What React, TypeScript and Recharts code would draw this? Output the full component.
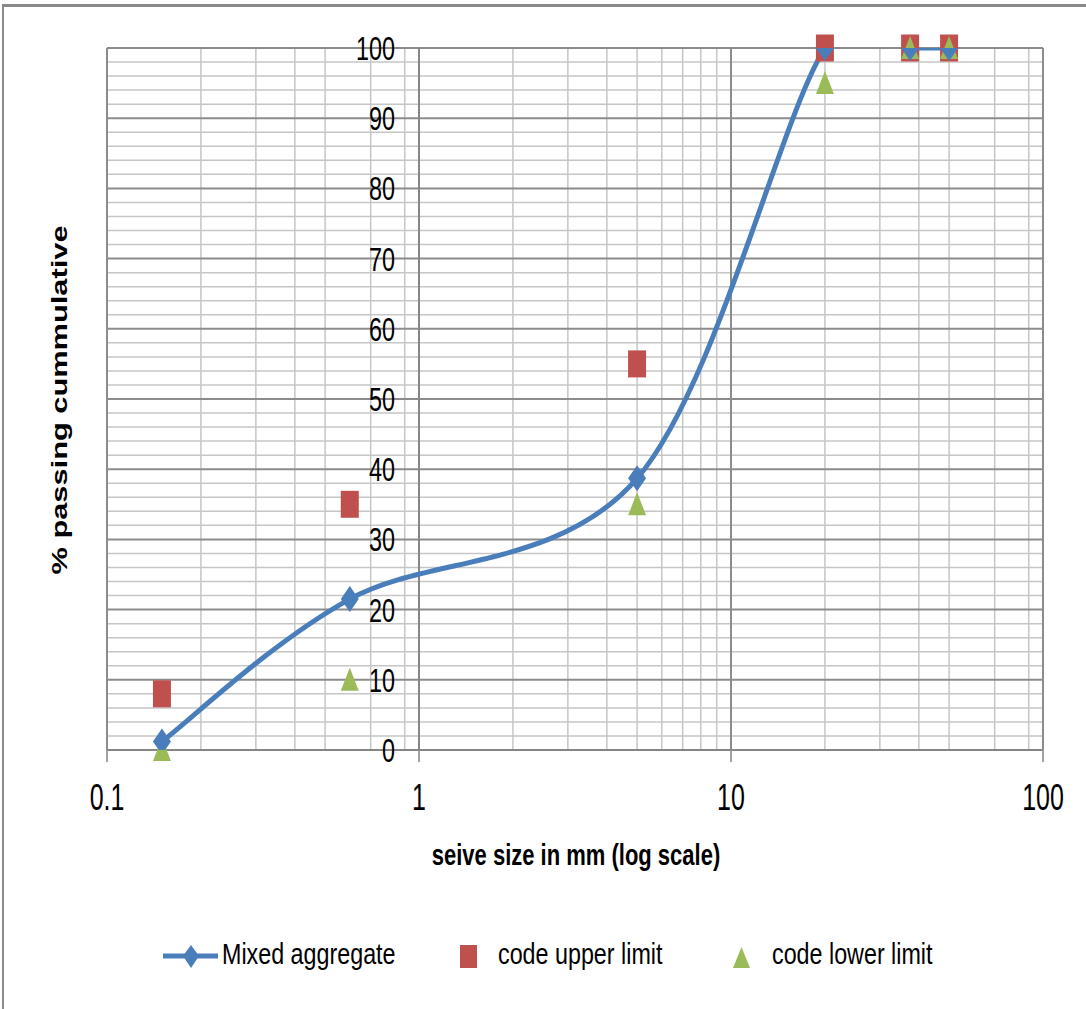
import React from 'react';
import {
  ComposedChart,
  Line,
  Scatter,
  XAxis,
  YAxis,
  CartesianGrid,
  Legend,
  ReferenceLine,
} from 'recharts';

// sieve sizes in mm (log axis)
const sieveSizes = [0.15, 0.6, 5, 20, 37.5, 50];
// % passing cumulative
const mixedAggregate = [1.2, 21.5, 38.7, 100, 100, 100];
const codeUpperLimit = [8, 35, 55, 100, 100, 100];
const codeLowerLimit = [0, 10, 35, 95, 100, 100];

const xTicks = [0.1, 1, 10, 100];
const yTicks = [0, 10, 20, 30, 40, 50, 60, 70, 80, 90, 100];
const xMinorGrid = [0.2, 0.3, 0.4, 0.5, 0.6, 0.7, 0.8, 0.9, 2, 3, 4, 5, 6, 7, 8, 9, 20, 30, 40, 50, 60, 70, 80, 90];
const yMinorGrid = [2, 4, 6, 8, 12, 14, 16, 18, 22, 24, 26, 28, 32, 34, 36, 38, 42, 44, 46, 48, 52, 54, 56, 58, 62, 64, 66, 68, 72, 74, 76, 78, 82, 84, 86, 88, 92, 94, 96, 98];

const mixedRows = sieveSizes.map((x, i) => ({ x, y: mixedAggregate[i] }));
const upperRows = sieveSizes.map((x, i) => ({ x, y: codeUpperLimit[i] }));
const lowerRows = sieveSizes.map((x, i) => ({ x, y: codeLowerLimit[i] }));

const BLUE = '#4a7ebb';
const RED = '#c0504d';
const GREEN = '#9bbb59';
const FONT = '"Liberation Sans", Arial, sans-serif';

const PLOT_LEFT = 107;
const Y_AXIS_WIDTH = 60;

// Excel-like smoothed line (bezier with catmull-rom control points)
const excelSmooth = (context: any) => {
  let pts: number[][] = [];
  return {
    areaStart() {},
    areaEnd() {},
    lineStart() {
      pts = [];
    },
    point(x: number, y: number) {
      pts.push([+x, +y]);
    },
    lineEnd() {
      if (!pts.length) return;
      context.moveTo(pts[0][0], pts[0][1]);
      for (let i = 0; i < pts.length - 1; i++) {
        const p0 = pts[i - 1] || pts[i];
        const p1 = pts[i];
        const p2 = pts[i + 1];
        const p3 = pts[i + 2] || p2;
        context.bezierCurveTo(
          p1[0] + (p2[0] - p0[0]) / 6,
          p1[1] + (p2[1] - p0[1]) / 6,
          p2[0] - (p3[0] - p1[0]) / 6,
          p2[1] - (p3[1] - p1[1]) / 6,
          p2[0],
          p2[1]
        );
      }
    },
  };
};

const Diamond = (props: any) => {
  const { cx, cy, index } = props;
  if (cx == null || cy == null) return <g key={index} />;
  return (
    <path
      key={index}
      d={`M${cx},${cy - 13} L${cx + 9},${cy} L${cx},${cy + 13} L${cx - 9},${cy} Z`}
      fill={BLUE}
    />
  );
};

const Square = (props: any) => {
  const { cx, cy } = props;
  return <rect x={cx - 9} y={cy - 13.5} width={18} height={27} fill={RED} />;
};

const Triangle = (props: any) => {
  const { cx, cy } = props;
  return <path d={`M${cx},${cy - 12} L${cx + 9},${cy + 11} L${cx - 9},${cy + 11} Z`} fill={GREEN} />;
};

const XTick = (props: any) => {
  const { x, payload } = props;
  return (
    <text
      transform={`translate(${x},810) scale(1,1.5)`}
      textAnchor="middle"
      fontFamily={FONT}
      fontSize={25}
      fill="#000"
    >
      {payload.value}
    </text>
  );
};

const YTick = (props: any) => {
  const { y, payload } = props;
  return (
    <text
      transform={`translate(${PLOT_LEFT + 288},${y + 12}) scale(1,1.45)`}
      textAnchor="end"
      fontFamily={FONT}
      fontSize={23.4}
      fill="#000"
    >
      {payload.value}
    </text>
  );
};

const legendItems = [
  { name: 'Mixed aggregate', kind: 'line', iconX: 163, textX: 222 },
  { name: 'code upper limit', kind: 'square', iconX: 460, textX: 498 },
  { name: 'code lower limit', kind: 'triangle', iconX: 733, textX: 772 },
];

const LegendContent = () => (
  <svg width={1086} height={60} style={{ display: 'block' }}>
    {legendItems.map((it) => (
      <g key={it.name}>
        {it.kind === 'line' && (
          <g>
            <line x1={it.iconX} y1={31} x2={it.iconX + 55} y2={31} stroke={BLUE} strokeWidth={5} />
            <path
              d={`M${it.iconX + 28},${20} L${it.iconX + 36},${31} L${it.iconX + 28},${43} L${it.iconX + 20},${31} Z`}
              fill={BLUE}
            />
          </g>
        )}
        {it.kind === 'square' && <rect x={it.iconX} y={20} width={17} height={23} fill={RED} />}
        {it.kind === 'triangle' && (
          <path
            d={`M${it.iconX + 8.5},${22} L${it.iconX + 17},${43} L${it.iconX},${43} Z`}
            fill={GREEN}
          />
        )}
        <text
          transform={`translate(${it.textX},39) scale(1,1.27)`}
          fontFamily={FONT}
          fontSize={23.3}
          fill="#000"
        >
          {it.name}
        </text>
      </g>
    ))}
  </svg>
);

const XTitle = () => (
  <text
    transform="translate(576,865) scale(1,1.35)"
    textAnchor="middle"
    fontFamily={FONT}
    fontWeight="bold"
    fontSize={22}
    fill="#000"
  >
    seive size in mm (log scale)
  </text>
);

const YTitle = () => (
  <text
    transform="translate(67,400) rotate(-90) scale(1.4,1)"
    textAnchor="middle"
    fontFamily={FONT}
    fontWeight="bold"
    fontSize={22}
    fill="#000"
  >
    % passing cummulative
  </text>
);

export default function App() {
  return (
    <div
      style={{
        position: 'absolute',
        left: 0,
        top: 0,
        width: 1086,
        height: 1009,
        background: '#fff',
        overflow: 'hidden',
      }}
    >
      <div
        style={{
          position: 'absolute',
          left: 2,
          top: 4,
          width: 1100,
          height: 1100,
          borderLeft: '2px solid #8a8a8a',
          borderTop: '3px solid #8a8a8a',
        }}
      />
      <ComposedChart
        width={1086}
        height={1009}
        margin={{ top: 48, right: 43, left: PLOT_LEFT - Y_AXIS_WIDTH, bottom: 229 }}
        style={{ position: 'absolute', left: 0, top: 0 }}
      >
        <CartesianGrid
          stroke="#c6c6c6"
          strokeWidth={1.5}
          horizontalValues={yMinorGrid}
          verticalValues={xMinorGrid}
        />
        <CartesianGrid
          stroke="#8c8c8c"
          strokeWidth={2}
          horizontalValues={yTicks}
          verticalValues={xTicks}
        />
        <XAxis
          dataKey="x"
          type="number"
          scale="log"
          domain={[0.1, 100]}
          ticks={xTicks}
          allowDataOverflow
          axisLine={{ stroke: '#868686', strokeWidth: 2 }}
          tickLine={{ stroke: '#868686', strokeWidth: 1.5 }}
          tickSize={12}
          tick={<XTick />}
          height={30}
          label={{ content: () => <XTitle /> }}
        />
        <YAxis
          dataKey="y"
          type="number"
          domain={[0, 100]}
          ticks={yTicks}
          interval={0}
          width={Y_AXIS_WIDTH}
          axisLine={false}
          tickLine={false}
          tick={<YTick />}
          label={{ content: () => <YTitle /> }}
        />
        <YAxis yAxisId="line" dataKey="y" type="number" domain={[0, 100]} allowDataOverflow hide />
        <ReferenceLine x={1} stroke="#868686" strokeWidth={2} />
        <Line
          data={mixedRows}
          dataKey="y"
          yAxisId="line"
          name="Mixed aggregate"
          type={excelSmooth as any}
          stroke={BLUE}
          strokeWidth={5}
          dot={Diamond}
          activeDot={false}
          isAnimationActive={false}
        />
        <Scatter data={upperRows} name="code upper limit" shape={Square} isAnimationActive={false} />
        <Scatter data={lowerRows} name="code lower limit" shape={Triangle} isAnimationActive={false} />
        <Legend
          layout="horizontal"
          verticalAlign="middle"
          align="center"
          content={() => <LegendContent />}
          wrapperStyle={{ position: 'absolute', top: 925, left: 0, width: 1086, height: 60 }}
        />
      </ComposedChart>
    </div>
  );
}
